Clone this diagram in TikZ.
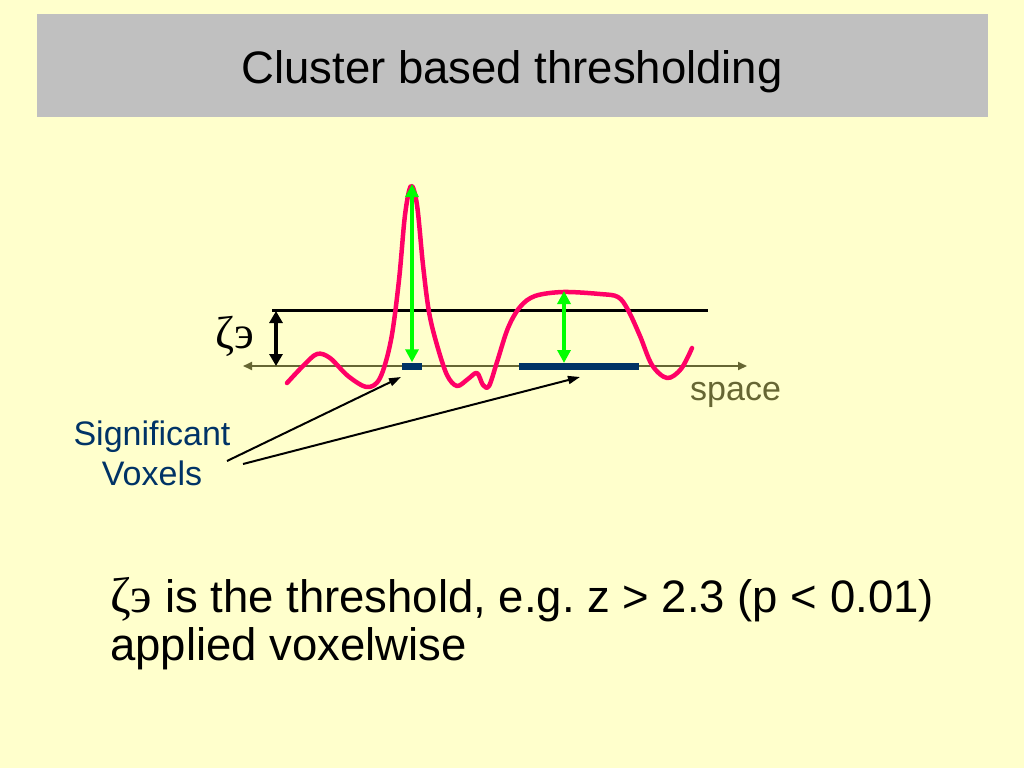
\documentclass[tikz,border=0pt]{standalone}
\usepackage{fontspec}
\setmainfont{Liberation Sans}
\newfontfamily\grserif{Liberation Serif}
\usetikzlibrary{arrows.meta}
\definecolor{bg}{HTML}{FFFFCC}
\definecolor{band}{HTML}{C0C0C0}
\definecolor{olive}{HTML}{666633}
\definecolor{navy}{HTML}{003366}
\definecolor{pinkred}{HTML}{FF0066}
\definecolor{brightgreen}{HTML}{00FF00}
\tikzset{
  titletext/.style={font=\fontsize{45.5}{54}\selectfont, inner sep=0pt},
  bodytext/.style={font=\fontsize{45.5}{50}\selectfont, inner sep=0pt, anchor=base west},
  labeltext/.style={font=\fontsize{34}{40}\selectfont, inner sep=0pt},
  axisline/.style={draw=olive, line width=2pt, {Triangle[length=9pt,width=8pt]}-{Triangle[length=9pt,width=8pt]}},
  threshline/.style={draw=black, line width=3pt},
  blackdouble/.style={draw=black, line width=4pt, {Triangle[length=12pt,width=13pt]}-{Triangle[length=12pt,width=13pt]}},
  greendouble/.style={draw=brightgreen, line width=4pt, {Triangle[length=13pt,width=13pt]}-{Triangle[length=13pt,width=13pt]}},
  voxbar/.style={fill=navy, inner sep=0pt, minimum height=7pt},
  signal/.style={draw=pinkred, line width=4.5pt, line cap=round, line join=round},
  pointer/.style={draw=black, line width=2pt, -{Triangle[length=12pt,width=8pt]}},
}
\begin{document}
\begin{tikzpicture}[x=1pt,y=-1pt]
\fill[bg] (0,0) rectangle (1024,768);
\useasboundingbox (0,0) rectangle (1024,768);
\fill[band] (37,14) rectangle (988,117);
\node[titletext, anchor=base] (title) at (512,83) {Cluster based thresholding};

% axis
\coordinate (axL) at (243,366);
\coordinate (axR) at (747,366);
\draw[axisline] (axL) -- (axR);
\node[labeltext, anchor=base west, text=olive] (space) at (690,400) {space};

% threshold
\coordinate (thL) at (272,310);
\coordinate (thR) at (708,310);
\draw[threshline] (thL) -- (thR);
\coordinate (zt) at (276,311);
\coordinate (zb) at (276,366);
\draw[blackdouble] (zt) -- (zb);
\node[font=\fontsize{46}{50}\grserif, inner sep=0pt, anchor=base west] (zlab) at (215,348) {ζэ};

% significant voxels
\node[voxbar, minimum width=20pt] (bar1) at (412,366) {};
\node[voxbar, minimum width=120pt] (bar2) at (579,366) {};

% signal
\draw[signal] plot[smooth, tension=0.55] coordinates {
 (287,383) (303,366) (317,354) (330,358) (348,376) (367,387) (380,378)
 (391,340) (399,280) (405,215) (411,186) (417,205) (423,265) (429,312)
 (437,345) (447,375) (457,386) (468,379) (477,373) (483,385) (489,386)
 (497,362) (508,328) (520,307) (535,296) (563,292) (600,294) (618,297)
 (628,310) (640,336) (652,365) (667,378) (681,369) (692,348)};

% peak heights
\coordinate (g1t) at (412,184);
\draw[greendouble] (g1t) -- (bar1.north);
\coordinate (g2t) at (564,291);
\coordinate (g2b) at (564,363);
\draw[greendouble] (g2t) -- (g2b);

% label and pointers
\node[labeltext, text=navy, align=center, anchor=north] (sig) at (152,421) {Significant\\Voxels};
\coordinate (p1s) at (227,461);
\coordinate (p1e) at (401,377);
\coordinate (p2s) at (243,464);
\coordinate (p2e) at (580,377);
\draw[pointer] (p1s) -- (p1e);
\draw[pointer] (p2s) -- (p2e);

% body text
\node[bodytext] (line1) at (110,612) {{\fontsize{50}{60}\grserif ζэ} is the threshold, e.g.\ z > 2.3 (p < 0.01)};
\node[bodytext] (line2) at (110,660) {applied voxelwise};
\end{tikzpicture}
\end{document}
